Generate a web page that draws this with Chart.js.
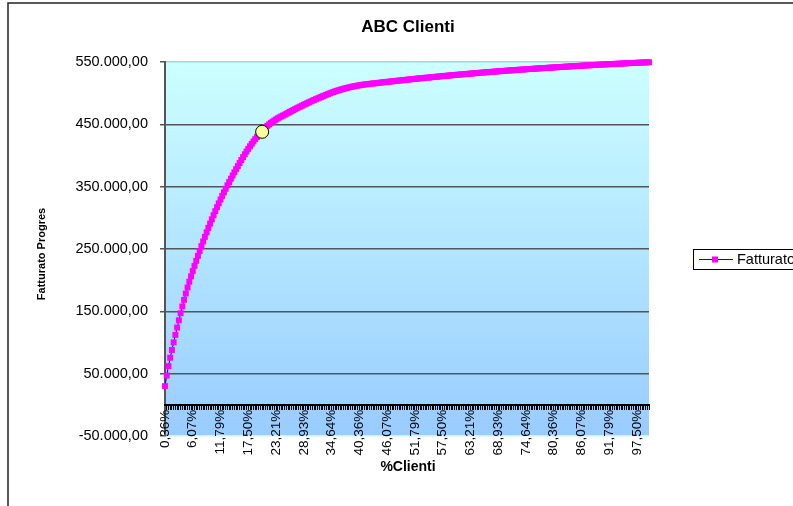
<!DOCTYPE html>
<html>
<head>
<meta charset="utf-8">
<script src="https://cdn.jsdelivr.net/npm/chart.js@4.4.0/dist/chart.umd.min.js"></script>
<style>
  html, body { margin: 0; padding: 0; background: #fff; }
  canvas { display: block; }
</style>
</head>
<body>
<canvas id="myChart" width="793" height="506"></canvas>
<script>
const titolo = 'ABC Clienti';
const serieNome = 'Fatturato Progressivo';

// fatturato progressivo per cliente (ordinati per fatturato decrescente)
const fatturato = [
  30000, 47000, 62000, 75500, 88000, 100200, 112200, 124000, 135600, 147000,
  157800, 168300, 178500, 188200, 197500, 206100, 214550, 222850, 231000, 239000,
  246850, 254550, 262100, 269500, 276750, 283850, 290800, 297600, 304250, 310750,
  317100, 323300, 329350, 335250, 341000, 346600, 352050, 357450, 362750, 367950,
  373050, 378050, 383000, 387900, 392750, 397450, 402000, 406400, 410650, 414750,
  418700, 422500, 426150, 429650, 432950, 436100, 439100, 442000, 444800, 447500,
  449900, 452100, 454100, 456000, 457800, 459500, 461100, 462600, 464050, 465500,
  467000, 468500, 469980, 471440, 472890, 474330, 475760, 477180, 478590, 480000,
  481350, 482685, 484005, 485305, 486590, 487860, 489110, 490345, 491565, 492765,
  493950, 495120, 496270, 497405, 498525, 499625, 500710, 501780, 502830, 503730,
  504600, 505440, 506250, 507025, 507770, 508485, 509165, 509815, 510435, 511025,
  511580, 512105, 512595, 513055, 513485, 513885, 514255, 514590, 514895, 515220,
  515540, 515860, 516180, 516500, 516820, 517140, 517460, 517780, 518100, 518405,
  518710, 519015, 519320, 519625, 519930, 520235, 520540, 520845, 521150, 521440,
  521730, 522020, 522310, 522600, 522890, 523180, 523470, 523760, 524050, 524325,
  524600, 524875, 525150, 525425, 525700, 525975, 526250, 526525, 526800, 527060,
  527320, 527580, 527840, 528100, 528360, 528620, 528880, 529140, 529400, 529645,
  529890, 530135, 530380, 530625, 530870, 531115, 531360, 531605, 531850, 532080,
  532310, 532540, 532770, 533000, 533230, 533460, 533690, 533920, 534150, 534365,
  534580, 534795, 535010, 535225, 535440, 535655, 535870, 536085, 536300, 536500,
  536700, 536900, 537100, 537300, 537500, 537700, 537900, 538100, 538300, 538490,
  538680, 538870, 539060, 539250, 539440, 539630, 539820, 540010, 540200, 540380,
  540560, 540740, 540920, 541100, 541280, 541460, 541640, 541820, 542000, 542170,
  542340, 542510, 542680, 542850, 543020, 543190, 543360, 543530, 543700, 543860,
  544020, 544180, 544340, 544500, 544660, 544820, 544980, 545140, 545300, 545450,
  545600, 545750, 545900, 546050, 546200, 546350, 546500, 546650, 546800, 546940,
  547080, 547220, 547360, 547500, 547640, 547780, 547920, 548060, 548200, 548330,
  548460, 548590, 548720, 548850, 548980, 549110, 549240, 549370, 549500, 549630
];

// etichette visibili sull'asse x (una ogni 16 clienti)
const tickLabels = ['0,36%', '6,07%', '11,79%', '17,50%', '23,21%', '28,93%', '34,64%', '40,36%', '46,07%',
  '51,79%', '57,50%', '63,21%', '68,93%', '74,64%', '80,36%', '86,07%', '91,79%', '97,50%'];
const yTicks = [-50000, 50000, 150000, 250000, 350000, 450000, 550000];

// punto evidenziato (circa 80% del fatturato): [n. cliente, fatturato progressivo]
const punto80 = [57, 438000];

const clienti = fatturato.map((v, i) => ((i + 1) / fatturato.length * 100).toFixed(2).replace('.', ',') + '%');
const evidenza = fatturato.map((v, i) => i === punto80[0] - 1 ? punto80[1] : null);

function formatta(v) {
  const s = Math.abs(v).toString().replace(/\B(?=(\d{3})+(?!\d))/g, '.');
  return (v < 0 ? '-' : '') + s + ',00';
}

Chart.defaults.font.family = '"Liberation Sans", Arial, sans-serif';
Chart.defaults.color = '#000';

const decorazioni = {
  id: 'decorazioni',
  beforeDraw(chart) {
    const { ctx, chartArea: a } = chart;
    ctx.save();
    ctx.fillStyle = '#fff';
    ctx.fillRect(0, 0, chart.width, chart.height);
    const g = ctx.createLinearGradient(0, a.top, 0, a.bottom);
    g.addColorStop(0, '#CCFFFF');
    g.addColorStop(1, '#99CCFF');
    ctx.fillStyle = g;
    ctx.fillRect(a.left, a.top, a.right - a.left, a.bottom - a.top);
    ctx.restore();
  },
  afterDraw(chart) {
    const ctx = chart.ctx;
    ctx.save();
    // cornice del grafico
    ctx.strokeStyle = '#222';
    ctx.lineWidth = 1.5;
    ctx.beginPath();
    ctx.moveTo(8, 506);
    ctx.lineTo(8, 3);
    ctx.lineTo(793, 3);
    ctx.stroke();

    // titolo
    ctx.fillStyle = '#000';
    ctx.textAlign = 'center';
    ctx.textBaseline = 'middle';
    ctx.font = 'bold 17px "Liberation Sans", Arial, sans-serif';
    ctx.fillText(titolo, 408, 27);

    // titolo asse x
    ctx.font = 'bold 14px "Liberation Sans", Arial, sans-serif';
    ctx.fillText('%Clienti', 408, 467);

    // titolo asse y
    ctx.save();
    ctx.translate(42, 254);
    ctx.rotate(-Math.PI / 2);
    ctx.font = 'bold 11px "Liberation Sans", Arial, sans-serif';
    ctx.fillText('Fatturato Progres', 0, 0);
    ctx.restore();

    // legenda
    ctx.strokeStyle = '#000';
    ctx.lineWidth = 1;
    ctx.strokeRect(693.5, 249.5, 130, 20);
    ctx.strokeStyle = '#0000FF';
    ctx.beginPath();
    ctx.moveTo(699, 259.5);
    ctx.lineTo(733, 259.5);
    ctx.stroke();
    ctx.fillStyle = '#FF00FF';
    ctx.fillRect(712, 256.5, 6, 6);
    ctx.fillStyle = '#000';
    ctx.textAlign = 'left';
    ctx.font = '14.5px "Liberation Sans", Arial, sans-serif';
    ctx.fillText(serieNome, 737, 260);
    ctx.restore();
  }
};

const ctx = document.getElementById('myChart');

new Chart(ctx, {
  type: 'line',
  data: {
    labels: clienti,
    datasets: [
      {
        label: 'punto 80%',
        data: evidenza,
        order: 0,
        showLine: false,
        pointStyle: 'circle',
        pointRadius: 6.5,
        pointBackgroundColor: '#FFFF99',
        pointBorderColor: '#000',
        pointBorderWidth: 1,
        clip: false
      },
      {
        label: serieNome,
        data: fatturato,
        order: 1,
        borderColor: '#0000FF',
        borderWidth: 1,
        pointStyle: 'rect',
        pointRadius: 4.2,
        pointBackgroundColor: '#FF00FF',
        pointBorderColor: '#FF00FF',
        pointBorderWidth: 0,
        tension: 0,
        clip: false
      }
    ]
  },
  options: {
    responsive: false,
    animation: false,
    events: [],
    layout: { padding: { top: 62, right: 144, bottom: 70, left: 0 } },
    plugins: {
      legend: { display: false },
      title: { display: false },
      tooltip: { enabled: false }
    },
    scales: {
      y: {
        min: -50000,
        max: 550000,
        afterBuildTicks: s => { s.ticks = yTicks.map(v => ({ value: v })); },
        afterFit: s => { s.width = 165; },
        ticks: { callback: v => formatta(v), font: { size: 14.5 }, padding: 12 },
        grid: {
          color: c => {
            if (c.tick && c.tick.value === -50000) return '#c6f4ff';
            if (c.tick && c.tick.value === 550000) return '#a8d4d4';
            return '#555';
          },
          lineWidth: 1.5,
          tickLength: 5,
          tickColor: '#555'
        },
        border: { color: '#555', width: 2 }
      },
      x: {
        position: { y: 0 },
        offset: false,
        ticks: {
          autoSkip: false,
          minRotation: 90,
          maxRotation: 90,
          padding: 1,
          font: { size: 13.5 },
          callback: (v, i) => i % 16 === 0 ? tickLabels[i / 16] : ''
        },
        grid: { drawOnChartArea: false, tickLength: 4, color: '#000', lineWidth: 1 },
        border: { color: '#000', width: 2 }
      }
    }
  },
  plugins: [decorazioni]
});
</script>
</body>
</html>
